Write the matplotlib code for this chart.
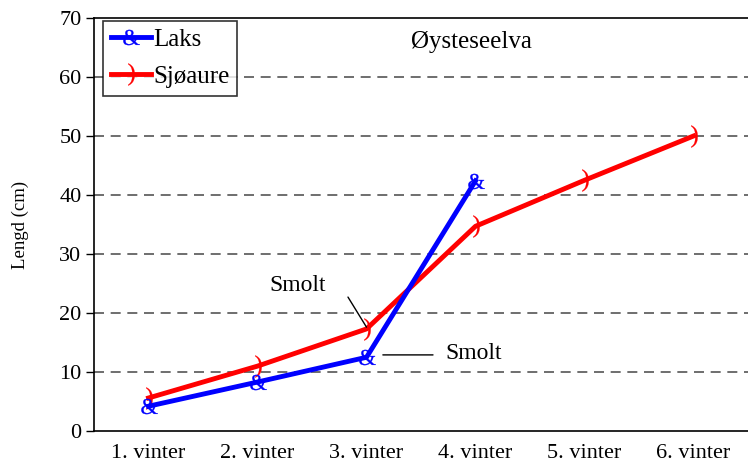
import matplotlib
matplotlib.use("Agg")
import matplotlib.pyplot as plt
from matplotlib.textpath import TextPath
from matplotlib.font_manager import FontProperties
from matplotlib.path import Path

categories = ["1. vinter", "2. vinter", "3. vinter", "4. vinter", "5. vinter", "6. vinter"]
laks = [4.2, 8.3, 12.5, 42.4]
sjoaure = [5.6, 11.0, 17.3, 34.7, 42.5, 50.0]
yticks = [0, 10, 20, 30, 40, 50, 60, 70]

plt.rcParams['font.family'] = ['Liberation Serif', 'DejaVu Serif']


def glyph_marker(ch):
    tp = TextPath((0, 0), ch, prop=FontProperties(family='Liberation Serif'), size=10)
    v = tp.vertices.copy()
    ext = tp.get_extents()
    v[:, 0] -= (ext.x0 + ext.x1) / 2
    v[:, 1] -= (ext.y0 + ext.y1) / 2
    return Path(v, tp.codes)


amp = glyph_marker('&')
par = glyph_marker(')')

fig = plt.figure(figsize=(7.48, 4.63), dpi=100)
ax = fig.add_axes([0.1257, 0.0691, 0.8743, 0.8920])

x_l = list(range(len(laks)))
x_s = list(range(len(sjoaure)))

ax.plot(x_l, laks, color='#0000ff', lw=3.5, marker=amp, markersize=13,
        markeredgewidth=0.2, markerfacecolor='#0000ff', markeredgecolor='#0000ff',
        label='Laks', zorder=4)
ax.plot(x_s, sjoaure, color='#ff0000', lw=3.5, marker=par, markersize=16,
        markeredgewidth=0.2, markerfacecolor='#ff0000', markeredgecolor='#ff0000',
        label='Sjøaure', zorder=3)

ax.set_xlim(-0.5, len(categories) - 0.5)
ax.set_ylim(0, 70)
ax.set_xticks(range(len(categories)))
ax.set_xticklabels(categories, fontsize=16)
ax.set_yticks(yticks)
ax.set_yticklabels([str(v) for v in yticks], fontsize=16)
ax.tick_params(axis='x', length=0, pad=9)
ax.tick_params(axis='y', direction='out', length=6, width=1, pad=3)

for v in yticks[1:-1]:
    ax.axhline(v, color='#555555', lw=1.2, ls=(0, (6, 4)), zorder=1)

ax.spines['right'].set_visible(False)
for s in ['left', 'top', 'bottom']:
    ax.spines[s].set_linewidth(1.2)
    ax.spines[s].set_color('black')

ax.set_ylabel('Lengd (cm)', fontsize=13.5, labelpad=22)

ax.text(0.577, 0.942, 'Øysteseelva', transform=ax.transAxes, fontsize=18,
        ha='center', va='center')

ax.text(1.37, 24.7, 'Smolt', fontsize=17, ha='center', va='center')
ax.annotate('', xy=(2.0, 17.6), xytext=(1.83, 22.7),
            arrowprops=dict(arrowstyle='-', color='black', lw=1,
                            shrinkA=0, shrinkB=0))
ax.text(2.98, 13.2, 'Smolt', fontsize=17, ha='center', va='center')
ax.annotate('', xy=(2.15, 12.9), xytext=(2.61, 12.9),
            arrowprops=dict(arrowstyle='-', color='black', lw=1,
                            shrinkA=0, shrinkB=0))

leg = ax.legend(loc='upper left', fontsize=18, frameon=True, fancybox=False,
                edgecolor='black', borderpad=0.3, labelspacing=0.6,
                handlelength=1.6, handletextpad=0.1, borderaxespad=0.1,
                bbox_to_anchor=(0.01, 1.0))
leg.get_frame().set_linewidth(1.2)

fig.savefig('out.png', dpi=100)
